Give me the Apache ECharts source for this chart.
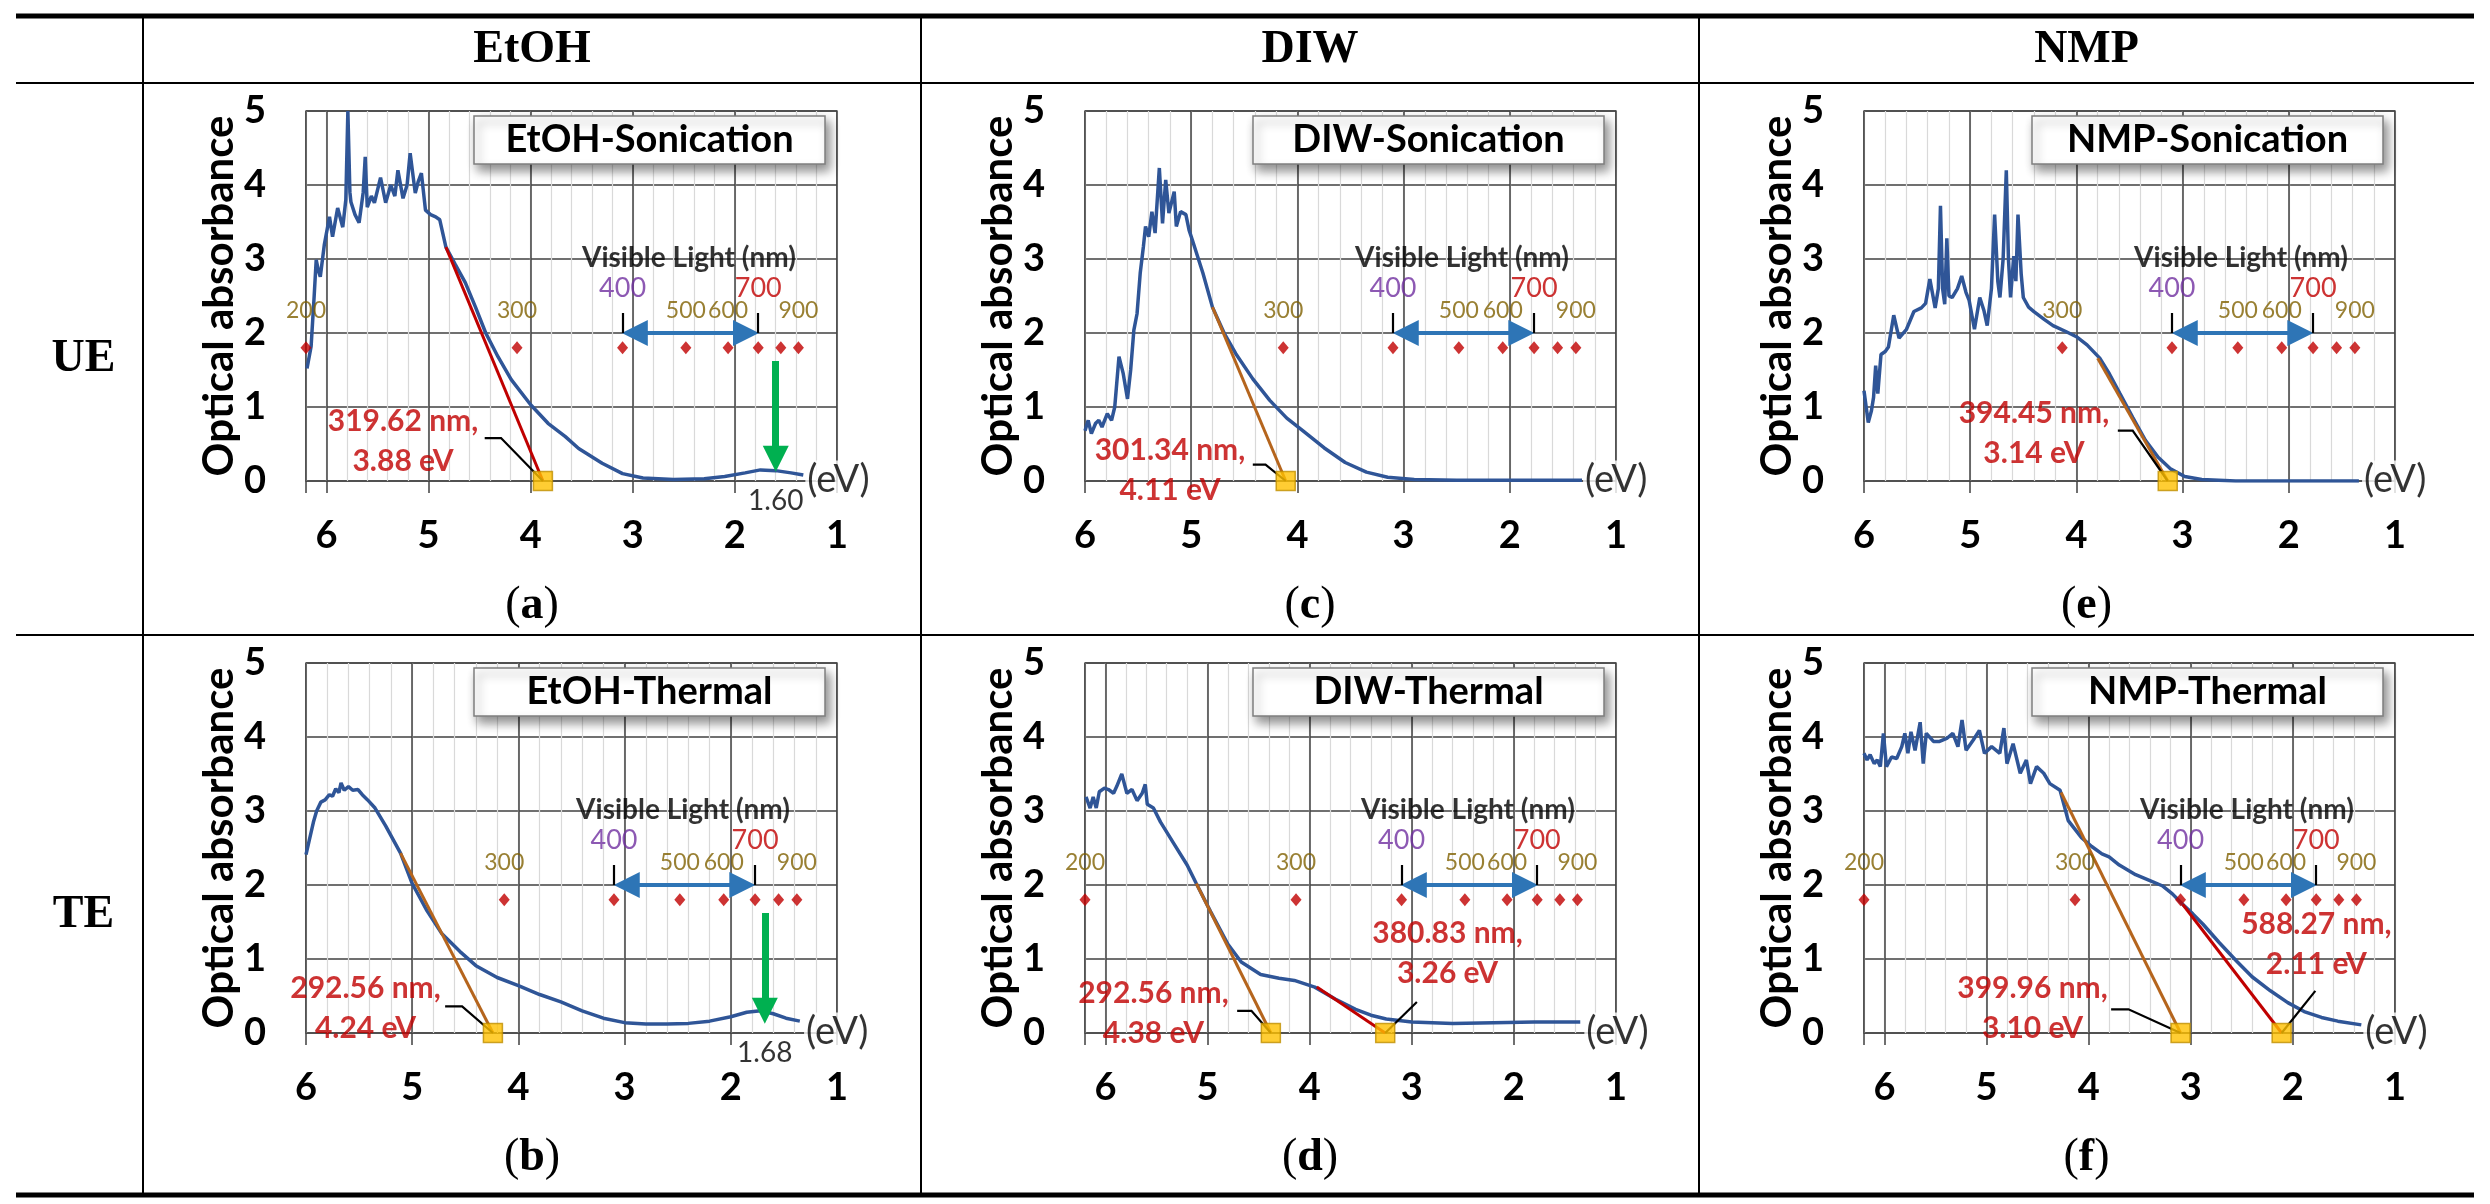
<!DOCTYPE html>
<html>
<head>
<meta charset="utf-8">
<script src="https://cdn.jsdelivr.net/npm/echarts@6/dist/echarts.min.js"></script>
<style>
html, body { margin: 0; padding: 0; background: #fff; }
#chart { width: 2490px; height: 1204px; }
</style>
</head>
<body>
<div id="chart"></div>
<script>
// ---------------- data ----------------
var solvents = ['EtOH', 'DIW', 'NMP'];
var methods = ['UE', 'TE'];
var panelLetters = ['a', 'b', 'c', 'd', 'e', 'f'];
var panelTitles = ['EtOH-Sonication', 'EtOH-Thermal', 'DIW-Sonication', 'DIW-Thermal', 'NMP-Sonication', 'NMP-Thermal'];

// wavelength scale (nm) drawn as red diamonds
var wavelengths = [200, 300, 400, 500, 600, 700, 800, 900];
var wavelengthLabels = ['200', '300', '400', '500', '600', '700', '', '900'];
var visibleRange = [400, 700];

// absorbance spectra, [photon energy (eV), optical absorbance]
var curveA = [[6.19,1.52],[6.15,1.82],[6.12,2.5],[6.10,2.99],[6.08,2.85],[6.06,2.76],[6.02,3.2],[5.97,3.57],[5.94,3.30],[5.89,3.69],[5.84,3.43],[5.81,3.8],[5.79,5.0],[5.77,3.9],[5.76,3.77],[5.72,3.6],[5.68,3.49],[5.64,3.9],[5.62,4.38],[5.6,3.7],[5.56,3.85],[5.53,3.76],[5.47,4.1],[5.42,3.76],[5.37,4.0],[5.33,3.85],[5.3,4.2],[5.25,3.82],[5.21,4.0],[5.18,4.43],[5.13,3.89],[5.1,4.05],[5.07,4.16],[5.03,3.66],[4.98,3.6],[4.93,3.57],[4.89,3.53],[4.83,3.16],[4.74,2.93],[4.64,2.68],[4.54,2.35],[4.44,2.0],[4.32,1.68],[4.19,1.37],[4.0,1.03],[3.83,0.78],[3.66,0.6],[3.53,0.44],[3.3,0.24],[3.1,0.1],[2.9,0.04],[2.6,0.02],[2.3,0.03],[2.1,0.06],[1.9,0.11],[1.75,0.15],[1.6,0.14],[1.45,0.11],[1.33,0.08]];
var curveB = [[6.0,2.41],[5.97,2.6],[5.93,2.85],[5.9,3.0],[5.86,3.12],[5.82,3.15],[5.78,3.22],[5.75,3.2],[5.72,3.3],[5.69,3.25],[5.67,3.38],[5.64,3.28],[5.6,3.33],[5.56,3.28],[5.51,3.29],[5.47,3.22],[5.42,3.15],[5.35,3.04],[5.25,2.8],[5.11,2.43],[5.0,2.02],[4.86,1.65],[4.72,1.34],[4.55,1.1],[4.4,0.91],[4.2,0.75],[4.0,0.64],[3.8,0.52],[3.6,0.42],[3.4,0.3],[3.2,0.2],[3.0,0.14],[2.8,0.12],[2.6,0.12],[2.4,0.13],[2.2,0.16],[2.0,0.22],[1.85,0.28],[1.72,0.3],[1.6,0.26],[1.48,0.2],[1.35,0.16]];
var curveC = [[6.0,0.68],[5.97,0.82],[5.94,0.64],[5.9,0.78],[5.87,0.82],[5.84,0.73],[5.79,0.91],[5.75,0.82],[5.72,1.0],[5.68,1.68],[5.64,1.45],[5.6,1.11],[5.57,1.5],[5.54,2.04],[5.51,2.26],[5.48,2.81],[5.45,3.17],[5.43,3.44],[5.4,3.3],[5.37,3.64],[5.34,3.35],[5.3,4.23],[5.27,3.48],[5.24,4.07],[5.21,3.62],[5.16,3.91],[5.14,3.44],[5.1,3.64],[5.05,3.6],[5.02,3.39],[4.99,3.26],[4.89,2.81],[4.8,2.35],[4.69,2.0],[4.58,1.72],[4.42,1.38],[4.26,1.09],[4.1,0.85],[3.95,0.68],[3.75,0.45],[3.55,0.25],[3.35,0.12],[3.15,0.05],[2.9,0.02],[2.5,0.01],[2.0,0.01],[1.32,0.01]];
var curveD = [[6.19,3.19],[6.15,3.04],[6.12,3.19],[6.09,3.04],[6.06,3.26],[6.01,3.31],[5.97,3.29],[5.92,3.24],[5.89,3.33],[5.84,3.5],[5.79,3.24],[5.74,3.29],[5.69,3.14],[5.64,3.24],[5.61,3.36],[5.59,3.09],[5.53,3.04],[5.46,2.85],[5.33,2.56],[5.2,2.27],[5.11,2.02],[4.97,1.64],[4.8,1.2],[4.67,0.96],[4.48,0.79],[4.3,0.74],[4.15,0.71],[3.95,0.62],[3.75,0.46],[3.55,0.32],[3.4,0.24],[3.25,0.19],[3.0,0.15],[2.6,0.13],[2.2,0.14],[1.8,0.15],[1.35,0.15]];
var curveE = [[6.0,1.22],[5.96,0.79],[5.93,0.95],[5.91,1.13],[5.89,1.56],[5.87,1.18],[5.84,1.71],[5.8,1.75],[5.77,1.81],[5.72,2.24],[5.67,1.93],[5.6,2.05],[5.53,2.29],[5.46,2.34],[5.42,2.4],[5.38,2.73],[5.33,2.34],[5.3,2.6],[5.28,3.72],[5.26,2.6],[5.24,2.39],[5.22,3.28],[5.2,2.5],[5.17,2.48],[5.12,2.6],[5.08,2.77],[5.04,2.55],[5.01,2.44],[4.96,2.05],[4.91,2.48],[4.87,2.3],[4.84,2.1],[4.8,2.6],[4.77,3.6],[4.74,2.7],[4.72,2.48],[4.69,3.0],[4.66,4.2],[4.64,3.0],[4.62,2.48],[4.59,3.04],[4.57,2.7],[4.55,3.6],[4.52,2.8],[4.5,2.48],[4.45,2.35],[4.4,2.29],[4.3,2.18],[4.22,2.1],[4.1,2.02],[4.0,1.95],[3.9,1.84],[3.78,1.66],[3.69,1.45],[3.59,1.18],[3.47,0.86],[3.35,0.55],[3.23,0.32],[3.11,0.16],[2.98,0.06],[2.82,0.02],[2.5,0.0],[2.0,0.0],[1.34,0.0]];
var curveF = [[6.2,3.78],[6.17,3.69],[6.14,3.76],[6.1,3.64],[6.07,3.69],[6.04,3.6],[6.01,4.05],[5.98,3.6],[5.93,3.73],[5.88,3.71],[5.83,3.87],[5.8,4.05],[5.77,3.78],[5.74,4.07],[5.7,3.82],[5.65,4.2],[5.62,3.64],[5.59,4.05],[5.52,3.94],[5.46,3.94],[5.39,3.98],[5.33,4.05],[5.28,3.87],[5.24,4.23],[5.2,3.82],[5.13,3.96],[5.07,4.09],[5.02,3.78],[4.95,3.87],[4.87,3.78],[4.83,4.12],[4.8,3.64],[4.74,3.91],[4.67,3.51],[4.61,3.69],[4.57,3.37],[4.51,3.6],[4.44,3.51],[4.38,3.37],[4.28,3.28],[4.2,2.87],[4.07,2.64],[3.97,2.52],[3.87,2.42],[3.8,2.38],[3.7,2.27],[3.54,2.14],[3.4,2.06],[3.28,1.99],[3.18,1.88],[3.08,1.74],[2.98,1.61],[2.88,1.47],[2.72,1.22],[2.55,0.97],[2.4,0.76],[2.22,0.57],[2.05,0.41],[1.89,0.29],[1.72,0.21],[1.56,0.16],[1.33,0.11]];

// tangent (Tauc-like) extrapolation lines: [start point, end point on the axis]
var tangentsA = [[[4.83,3.16],[3.88,0]]];
var tangentsB = [[[5.11,2.43],[4.24,0]]];
var tangentsC = [[[4.80,2.35],[4.11,0]]];
var tangentsD = [[[5.11,2.02],[4.38,0]], [[3.93,0.62],[3.26,0]]];
var tangentsE = [[[3.80,1.66],[3.14,0]]];
var tangentsF = [[[4.27,3.25],[3.10,0]], [[3.08,1.74],[2.11,0]]];

// band edges (eV) and their labels
var edgesA = [3.88], edgeTextsA = ['319.62 nm,\n3.88 eV'];
var edgesB = [4.24], edgeTextsB = ['292.56 nm,\n4.24 eV'];
var edgesC = [4.11], edgeTextsC = ['301.34 nm,\n4.11 eV'];
var edgesD = [4.38, 3.26], edgeTextsD = ['292.56 nm,\n4.38 eV', '380.83 nm,\n3.26 eV'];
var edgesE = [3.14], edgeTextsE = ['394.45 nm,\n3.14 eV'];
var edgesF = [3.10, 2.11], edgeTextsF = ['399.96 nm,\n3.10 eV', '588.27 nm,\n2.11 eV'];

// low-energy absorption peak marked by the green arrow (EtOH only)
var peaksA = [1.60];
var peaksB = [1.68];

// ---------------- layout and styles ----------------
var curves = [curveA, curveB, curveC, curveD, curveE, curveF];
var tangents = [tangentsA, tangentsB, tangentsC, tangentsD, tangentsE, tangentsF];
var edges = [edgesA, edgesB, edgesC, edgesD, edgesE, edgesF];
var edgeTexts = [edgeTextsA, edgeTextsB, edgeTextsC, edgeTextsD, edgeTextsE, edgeTextsF];
var peaks = [peaksA, peaksB, [], [], [], []];

var xMaxes = [6.2, 6.0, 6.0, 6.2, 6.0, 6.2];
var colLeft = [306, 1085, 1864];
var rowTop = [111, 663];
var plotW = 531, plotH = 370;
var tableX = [16, 143, 921, 1699, 2474];
var tableY = [16, 83, 635, 1195];

var RED = '#c00000', BROWN = '#b5651d', BLUE = '#2f5597';
var tangentColors = [[RED], [BROWN], [BROWN], [BROWN, RED], [BROWN], [BROWN, RED]];
// where the edge labels and their leader lines sit (data coords)
var edgeLabelAt = [[[5.25,0.53]], [[5.44,0.33]], [[5.2,0.14]], [[5.53,0.27],[2.65,1.07]], [[4.4,0.65]], [[4.55,0.34],[1.77,1.2]]];
var leaderPaths = [
  [[[4.45,0.58],[4.29,0.58],[3.88,0]]],
  [[[4.69,0.36],[4.53,0.36],[4.24,0]]],
  [[[4.42,0.22],[4.30,0.22],[4.11,0]]],
  [[[4.71,0.30],[4.57,0.30],[4.38,0]], [[3.26,0],[2.95,0.42]]],
  [[[3.61,0.68],[3.47,0.68],[3.14,0]]],
  [[[3.78,0.32],[3.61,0.32],[3.10,0]], [[2.11,0],[1.78,0.57]]]
];

var SANS = 'Lato, "Open Sans", sans-serif';
var SERIF = '"Liberation Serif", "DejaVu Serif", serif';

function toEV(nm) { return 1240 / nm; }
function wlColor(nm) { return nm === 400 ? '#7030a0' : (nm === 700 ? RED : '#7f6000'); }

var grids = [], xAxes = [], yAxes = [], series = [], graphics = [];

for (var p = 0; p < 6; p++) {
  var col = Math.floor(p / 2), row = p % 2;
  var xMax = xMaxes[p];
  grids.push({ left: colLeft[col], top: rowTop[row], width: plotW, height: plotH,
    show: true, borderColor: '#595959', borderWidth: 1.5, backgroundColor: 'transparent' });

  // minor vertical grid (0.2 eV)
  xAxes.push({ gridIndex: p, type: 'value', position: 'bottom', inverse: true, min: 1, max: xMax, interval: 0.2,
    axisLine: { show: false }, axisTick: { show: false }, axisLabel: { show: false },
    splitLine: { show: true, lineStyle: { color: '#d9d9d9', width: 1.2 } } });
  // major axis with labels
  xAxes.push({ gridIndex: p, type: 'value', position: 'bottom', inverse: true, min: 1, max: xMax, interval: 1,
    axisLine: { show: false },
    axisTick: { show: true, length: 12, lineStyle: { color: '#404040', width: 1.5 } },
    axisLabel: { fontSize: 38, fontWeight: 'bold', color: '#000', fontFamily: SANS, margin: 36,
      formatter: function (v) { return Math.abs(v - Math.round(v)) < 1e-6 ? String(Math.round(v)) : ''; } },
    splitLine: { show: true, lineStyle: { color: '#404040', width: 1.5 } } });
  yAxes.push({ gridIndex: p, type: 'value', min: 0, max: 5, interval: 1,
    axisLine: { show: false }, axisTick: { show: false },
    axisLabel: { fontSize: 38, fontWeight: 'bold', color: '#000', fontFamily: SANS, margin: 40 },
    splitLine: { show: true, lineStyle: { color: '#404040', width: 1.5 } },
    name: 'Optical absorbance', nameLocation: 'middle', nameGap: 64,
    nameTextStyle: { fontSize: 42, fontWeight: 'bold', color: '#000', fontFamily: SANS } });

  var xi = 2 * p + 1, yi = p;

  // spectrum
  series.push({ type: 'line', xAxisIndex: xi, yAxisIndex: yi, data: curves[p], showSymbol: false,
    smooth: false, lineStyle: { color: BLUE, width: 3.5 }, z: 3, silent: true, animation: false });

  // extrapolation lines
  tangents[p].forEach(function (seg, k) {
    series.push({ type: 'line', xAxisIndex: xi, yAxisIndex: yi, data: seg, showSymbol: false,
      lineStyle: { color: tangentColors[p][k], width: 3 }, z: 4, silent: true, animation: false });
  });

  // leader lines
  series.push({ type: 'lines', coordinateSystem: 'cartesian2d', xAxisIndex: xi, yAxisIndex: yi,
    polyline: true, silent: true, z: 5, animation: false,
    lineStyle: { color: '#000', width: 2.2, opacity: 1 },
    data: leaderPaths[p].map(function (path) { return { coords: path }; }) });

  // band-edge markers
  series.push({ type: 'scatter', xAxisIndex: xi, yAxisIndex: yi, symbol: 'rect', symbolSize: 19,
    clip: false, z: 6, silent: true, animation: false,
    itemStyle: { color: '#ffc000', borderColor: '#bf8f00', borderWidth: 1.5 },
    data: edges[p].map(function (e) { return [e, 0]; }) });

  // band-edge labels
  series.push({ type: 'scatter', xAxisIndex: xi, yAxisIndex: yi, symbolSize: 0, clip: false, z: 7,
    silent: true, animation: false,
    data: edgeTexts[p].map(function (t, k) {
      return { value: edgeLabelAt[p][k], label: { show: true, position: 'inside', formatter: t,
        color: RED, fontSize: 30, fontWeight: 'bold', fontFamily: SANS, lineHeight: 40, align: 'center' } };
    }) });

  // wavelength diamonds
  var wlIn = wavelengths.filter(function (w) { return toEV(w) <= xMax + 0.01; });
  series.push({ type: 'scatter', xAxisIndex: xi, yAxisIndex: yi, symbol: 'diamond', symbolSize: [11, 13],
    itemStyle: { color: RED }, z: 6, silent: true, clip: false, animation: false,
    data: wlIn.map(function (w) { return [toEV(w), 1.8]; }) });

  // wavelength numbers
  series.push({ type: 'scatter', xAxisIndex: xi, yAxisIndex: yi, symbolSize: 0, z: 7, silent: true,
    clip: false, animation: false,
    data: wlIn.map(function (w) {
      var i = wavelengths.indexOf(w);
      var big = (w === visibleRange[0] || w === visibleRange[1]);
      return { value: [toEV(w), big ? 2.6 : 2.3],
        label: { show: true, position: 'inside', formatter: wavelengthLabels[i], color: wlColor(w),
          fontSize: big ? 27 : 23, fontFamily: SANS } };
    }) });

  // "Visible Light (nm)" caption
  series.push({ type: 'scatter', xAxisIndex: xi, yAxisIndex: yi, symbolSize: 0, z: 7, silent: true,
    clip: false, animation: false,
    data: [{ value: [2.45, 3.02], label: { show: true, position: 'inside', formatter: 'Visible Light (nm)',
      color: '#000', fontSize: 28, fontWeight: 'bold', fontFamily: SANS } }] });

  // visible range double arrow + end ticks
  var v0 = toEV(visibleRange[0]), v1 = toEV(visibleRange[1]);
  series.push({ type: 'lines', coordinateSystem: 'cartesian2d', xAxisIndex: xi, yAxisIndex: yi,
    silent: true, z: 6, animation: false, symbol: ['triangle', 'triangle'], symbolSize: 26,
    lineStyle: { color: '#2e75b6', width: 4, opacity: 1 },
    data: [{ coords: [[v0 - 0.12, 2.0], [v1 + 0.12, 2.0]] }] });
  series.push({ type: 'lines', coordinateSystem: 'cartesian2d', xAxisIndex: xi, yAxisIndex: yi,
    silent: true, z: 6, animation: false,
    lineStyle: { color: '#000', width: 2.2, opacity: 1 },
    data: [{ coords: [[v0, 2.0], [v0, 2.27]] }, { coords: [[v1, 2.0], [v1, 2.27]] }] });

  // (eV) unit at the end of the curve
  series.push({ type: 'scatter', xAxisIndex: xi, yAxisIndex: yi, symbolSize: 0, z: 8, silent: true,
    clip: false, animation: false,
    data: [{ value: [1.31, 0.02], label: { show: true, position: 'right', distance: 0, formatter: '(eV)',
      color: '#000', fontSize: 38, fontFamily: SANS, backgroundColor: '#fff', padding: [0, 2] } }] });

  // green arrow at the low-energy peak
  if (peaks[p].length) {
    series.push({ type: 'lines', coordinateSystem: 'cartesian2d', xAxisIndex: xi, yAxisIndex: yi,
      silent: true, z: 6, animation: false, symbol: ['none', 'triangle'], symbolSize: 26,
      lineStyle: { color: '#00b050', width: 7, opacity: 1 },
      data: peaks[p].map(function (e) { return { coords: [[e, 1.62], [e, 0.3]] }; }) });
    series.push({ type: 'scatter', xAxisIndex: xi, yAxisIndex: yi, symbolSize: 0, z: 8, silent: true,
      clip: false, animation: false,
      data: peaks[p].map(function (e) {
        return { value: [e, -0.27], label: { show: true, position: 'inside', formatter: e.toFixed(2),
          color: '#000', fontSize: 28, fontFamily: SANS } };
      }) });
  }

  // title box
  var bx = colLeft[col] + 168, by = rowTop[row] + 5, bw = plotW - 180, bh = 48;
  graphics.push({ type: 'rect', z: 50, shape: { x: bx, y: by, width: bw, height: bh },
    style: { fill: '#fff', stroke: '#7f7f7f', lineWidth: 1.5, shadowBlur: 10, shadowOffsetX: 4,
      shadowOffsetY: 6, shadowColor: 'rgba(0,0,0,0.45)' } });
  graphics.push({ type: 'text', z: 51, x: bx + bw / 2, y: by + bh / 2,
    style: { text: panelTitles[p], fill: '#000', font: 'bold 38px ' + SANS, align: 'center', verticalAlign: 'middle' } });

  // panel letter
  graphics.push({ type: 'text', z: 51, x: (tableX[col + 1] + tableX[col + 2]) / 2, y: row === 0 ? 606 : 1158,
    style: { text: '{p|(}{b|' + panelLetters[p] + '}{p|)}', align: 'center', verticalAlign: 'middle',
      rich: { p: { font: '46px ' + SERIF, fill: '#000' }, b: { font: 'bold 46px ' + SERIF, fill: '#000' } } } });
}

// table rules
function hline(y, w) {
  return { type: 'line', z: 40, shape: { x1: tableX[0], y1: y, x2: tableX[4], y2: y }, style: { stroke: '#000', lineWidth: w } };
}
graphics.push(hline(tableY[0], 5), hline(tableY[1], 2), hline(tableY[2], 2), hline(tableY[3], 5));
[1, 2, 3].forEach(function (i) {
  graphics.push({ type: 'line', z: 40, shape: { x1: tableX[i], y1: tableY[0], x2: tableX[i], y2: tableY[3] },
    style: { stroke: '#000', lineWidth: 2 } });
});
solvents.forEach(function (s, i) {
  graphics.push({ type: 'text', z: 41, x: (tableX[i + 1] + tableX[i + 2]) / 2, y: 50,
    style: { text: s, fill: '#000', font: 'bold 46px ' + SERIF, align: 'center', verticalAlign: 'middle' } });
});
methods.forEach(function (m, i) {
  graphics.push({ type: 'text', z: 41, x: (tableX[0] + tableX[1]) / 2 + 4, y: (tableY[i + 1] + tableY[i + 2]) / 2,
    style: { text: m, fill: '#000', font: 'bold 46px ' + SERIF, align: 'center', verticalAlign: 'middle' } });
});

var chart = echarts.init(document.getElementById('chart'));
chart.setOption({
  backgroundColor: '#fff',
  animation: false,
  grid: grids,
  xAxis: xAxes,
  yAxis: yAxes,
  series: series,
  graphic: graphics
});
</script>
</body>
</html>
